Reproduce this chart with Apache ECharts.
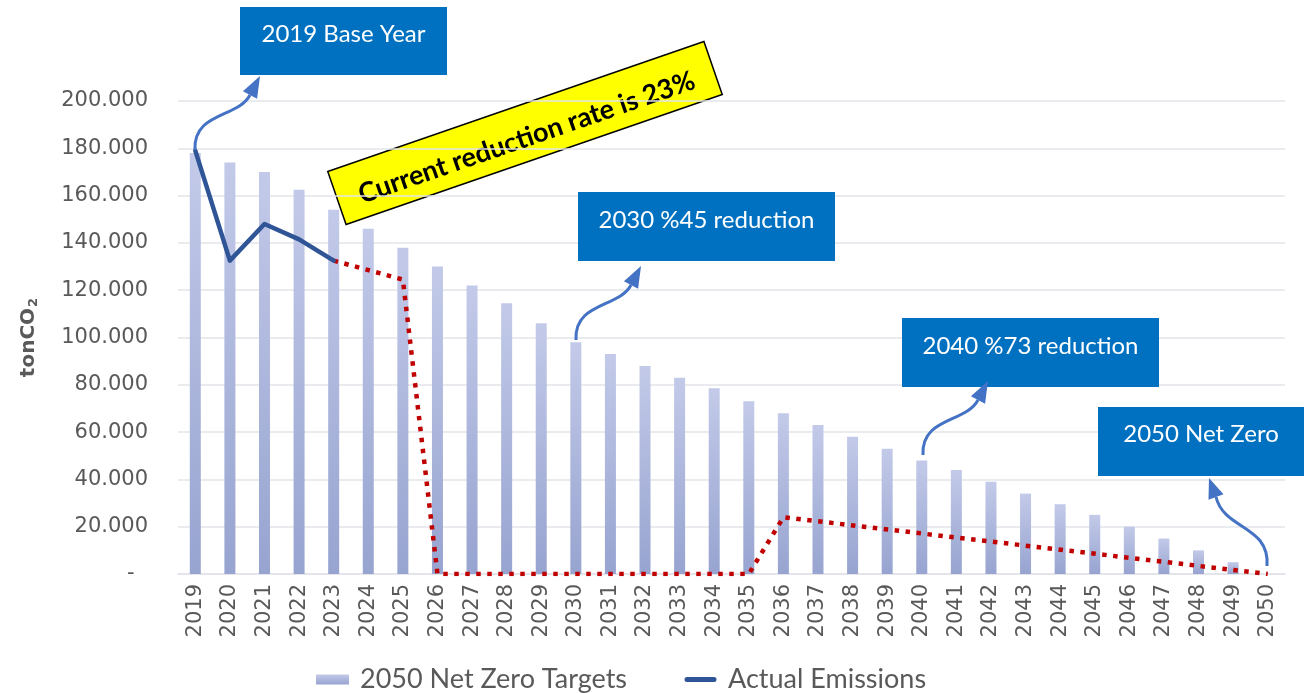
<!DOCTYPE html>
<html>
<head>
<meta charset="utf-8">
<script src="https://cdn.jsdelivr.net/npm/echarts/dist/echarts.min.js"></script>
<style>
  html, body { margin: 0; padding: 0; background: #fff; }
  #chart { width: 1307px; height: 693px; }
</style>
</head>
<body>
<div id="chart"></div>
<script>
var years = ['2019','2020','2021','2022','2023','2024','2025','2026','2027','2028','2029','2030',
  '2031','2032','2033','2034','2035','2036','2037','2038','2039','2040','2041','2042','2043',
  '2044','2045','2046','2047','2048','2049','2050'];

// 2050 net zero target pathway (tCO2)
var targets = [178000,174000,170000,162500,154000,146000,138000,130000,122000,114500,106000,98000,
  93000,88000,83000,78500,73000,68000,63000,58000,53000,48000,44000,39000,34000,
  29500,25000,20000,15000,10000,5000,0];

// actual emissions 2019-2023
var actual = [179000,132500,148000,141500,132500];

// red dotted trajectory (only the corner points, rest is joined)
var trajectory = [null,null,null,null,132500,null,124500,0,null,null,null,null,null,null,null,null,
  0,24000,null,null,null,null,null,null,null,null,null,null,null,null,null,0];

var yTicks = { min: 0, max: 200000, step: 20000 };

var legendNames = ['2050 Net Zero Targets', 'Actual Emissions'];

function fmt(v) {
  if (v === 0) return '-  ';
  return String(v).replace(/\B(?=(\d{3})+(?!\d))/g, '.');
}

var actualData = years.map(function (y, i) { return i < actual.length ? actual[i] : null; });

var blue = '#0070c0';
var arrowColor = '#4472c4';

function arrow(s, c1, c2, e, tip) {
  var dx = tip[0] - e[0], dy = tip[1] - e[1];
  var len = Math.sqrt(dx * dx + dy * dy);
  var px = -dy / len * 8, py = dx / len * 8;
  return [
    {
      type: 'bezierCurve', z: 50,
      shape: { x1: s[0], y1: s[1], cpx1: c1[0], cpy1: c1[1], cpx2: c2[0], cpy2: c2[1], x2: e[0], y2: e[1] },
      style: { stroke: arrowColor, lineWidth: 3, fill: null }
    },
    {
      type: 'polygon', z: 50,
      shape: { points: [[tip[0], tip[1]], [e[0] + px, e[1] + py], [e[0] - px, e[1] - py]] },
      style: { fill: arrowColor }
    }
  ];
}

function shifted(dx, dy) {
  return arrow([195 + dx, 150 + dy], [193 + dx, 112 + dy], [238 + dx, 118 + dy], [250 + dx, 95 + dy], [260 + dx, 76 + dy]);
}

function box(x, y, w, h, text, ty) {
  return [
    { type: 'rect', z: 40, shape: { x: x, y: y, width: w, height: h }, style: { fill: blue } },
    {
      type: 'text', z: 41, x: x + w / 2, y: ty,
      style: { text: text, fill: '#fff', font: '24px Lato', align: 'center', verticalAlign: 'middle' }
    }
  ];
}

var graphics = []
  .concat(box(240, 7, 207, 68, '2019 Base Year', 34))
  .concat(box(578, 192, 257, 69, '2030 %45 reduction', 220))
  .concat(box(902, 318, 257, 69, '2040 %73 reduction', 346))
  .concat(box(1098, 407, 206, 69, '2050 Net Zero', 434))
  .concat(shifted(0, 0))
  .concat(shifted(381, 190))
  .concat(shifted(728, 305))
  .concat(arrow([1267, 566], [1270, 525], [1224, 530], [1216, 497], [1209, 478]))
  .concat([{
    type: 'group', x: 525, y: 133, rotation: 19.07 * Math.PI / 180, z: 60,
    children: [
      { type: 'rect', shape: { x: -199, y: -28, width: 398, height: 56 },
        style: { fill: '#ffff00', stroke: '#000', lineWidth: 1.5 } },
      { type: 'text', x: 0, y: 5,
        style: { text: 'Current reduction rate is 23%', fill: '#000', font: 'bold 27px Lato',
          align: 'center', verticalAlign: 'middle' } }
    ]
  }]);

var lineIcon = 'path://M0,0 L33,0 L33,0.01 Z M3,2.5 L30,2.5 A2.5,2.5 0 0 1 30,7.5 L3,7.5 A2.5,2.5 0 0 1 3,2.5 Z M0,10 L33,10 L33,9.99 Z';

var chart = echarts.init(document.getElementById('chart'));

var option = {
  animation: false,
  backgroundColor: '#fff',
  grid: { left: 178, right: 22, top: 101, bottom: 119, containLabel: false },
  legend: {
    data: [
      { name: legendNames[0], icon: 'rect' },
      { name: legendNames[1], icon: lineIcon }
    ],
    left: 311, top: 661,
    itemWidth: 33, itemHeight: 10, itemGap: 57,
    textStyle: { color: '#595959', fontSize: 27, fontFamily: 'Lato', padding: [0, 0, 0, 6] }
  },
  xAxis: {
    type: 'category',
    data: years,
    axisLine: { lineStyle: { color: '#e2e4ea', width: 1.5 } },
    axisTick: { show: false },
    axisLabel: { rotate: 90, color: '#595959', fontSize: 21, fontFamily: 'DejaVu Sans', margin: 10, interval: 0 }
  },
  yAxis: {
    type: 'value',
    min: yTicks.min, max: yTicks.max, interval: yTicks.step,
    name: '{m|tonCO}{s|2}',
    nameLocation: 'middle',
    nameRotate: 90,
    nameGap: 136,
    nameTextStyle: {
      color: '#595959', fontSize: 20, fontWeight: 'bold', fontFamily: 'DejaVu Sans',
      rich: {
        m: { color: '#595959', fontSize: 20, fontWeight: 'bold', fontFamily: 'DejaVu Sans', height: 26, verticalAlign: 'middle' },
        s: { color: '#595959', fontSize: 13, fontWeight: 'bold', fontFamily: 'DejaVu Sans', verticalAlign: 'middle', padding: [10, 0, 0, 1] }
      }
    },
    axisLine: { show: false },
    axisTick: { show: false },
    splitLine: { lineStyle: { color: '#e2e4ea', width: 1.5 } },
    axisLabel: { color: '#595959', fontSize: 21, fontFamily: 'DejaVu Sans', margin: 30, formatter: fmt }
  },
  series: [
    {
      name: legendNames[0],
      type: 'bar',
      data: targets,
      barWidth: 11,
      itemStyle: {
        color: new echarts.graphic.LinearGradient(0, 0, 0, 1, [
          { offset: 0, color: '#c3cae9' },
          { offset: 1, color: '#97a4d0' }
        ])
      },
      z: 2
    },
    {
      name: legendNames[1],
      type: 'line',
      data: actualData,
      symbol: 'none',
      lineStyle: { color: '#2f5597', width: 4.5, cap: 'round', join: 'round' },
      itemStyle: { color: '#2f5597' },
      z: 4
    },
    {
      name: 'trajectory',
      type: 'line',
      data: trajectory,
      connectNulls: true,
      symbol: 'none',
      lineStyle: { color: '#c00000', width: 4.5, type: [4.5, 6.5] },
      z: 3
    }
  ],
  graphic: graphics
};

chart.setOption(option);
window.addEventListener('resize', function () { chart.resize(); });
</script>
</body>
</html>
